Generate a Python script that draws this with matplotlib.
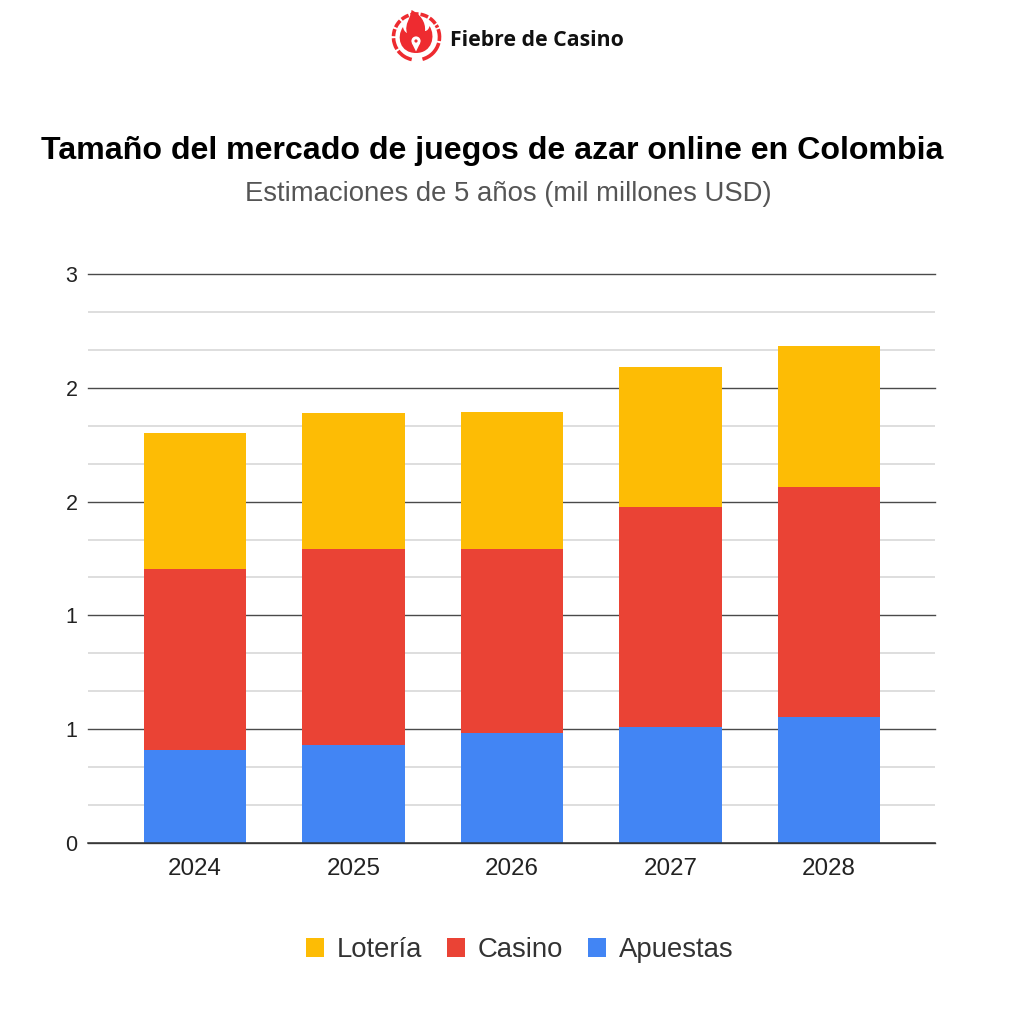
import matplotlib
matplotlib.use("Agg")
import matplotlib.pyplot as plt
from matplotlib.patches import PathPatch, Arc, Circle, Polygon
from matplotlib.path import Path
from matplotlib.ticker import FixedLocator

plt.rcParams['font.family'] = ['Liberation Sans', 'DejaVu Sans']

years = ['2024', '2025', '2026', '2027', '2028']
apuestas = [0.41, 0.43, 0.483, 0.511, 0.554]
casino = [0.795, 0.862, 0.81, 0.967, 1.01]
loteria = [0.598, 0.597, 0.601, 0.612, 0.62]
major_ticks = [0, 0.5, 1, 1.5, 2, 2.5]
major_labels = ['0', '1', '1', '2', '2', '3']
minor_ticks = [0.1667, 0.3333, 0.6667, 0.8333, 1.1667, 1.3333, 1.6667, 1.8333, 2.1667, 2.3333]

W, H = 1018, 1024
fig = plt.figure(figsize=(W / 100, H / 100), dpi=100, facecolor='white')

ax = fig.add_axes([88 / W, 1 - 843 / H, 847 / W, 569 / H])
x = list(range(len(years)))
ax.set_xlim(-0.675, 4.669)
ax.set_ylim(0, 2.5)
bottom2 = [a + c for a, c in zip(apuestas, casino)]
ax.bar(x, apuestas, width=0.645, color='#4285F4', label='Apuestas', zorder=3)
ax.bar(x, casino, width=0.645, bottom=apuestas, color='#EA4335', label='Casino', zorder=3)
ax.bar(x, loteria, width=0.645, bottom=bottom2, color='#FDBC05', label='Lotería', zorder=3)

ax.set_xticks(x, years)
ax.yaxis.set_major_locator(FixedLocator(major_ticks))
ax.set_yticklabels(major_labels)
ax.yaxis.set_minor_locator(FixedLocator(minor_ticks))
ax.grid(True, which='major', axis='y', color='#4a4a4a', lw=1.0, zorder=1, clip_on=False)
ax.grid(True, which='minor', axis='y', color='#d4d4d4', lw=1.1, zorder=1)
ax.grid(False, axis='x')
ax.tick_params(axis='x', which='both', length=0, labelsize=17.4, labelcolor='#222222', pad=11)
ax.tick_params(axis='y', which='both', length=0, labelsize=15.5, labelcolor='#222222', pad=7.5)
for s in ['top', 'left', 'right']:
    ax.spines[s].set_visible(False)
ax.spines['bottom'].set_color('#333333')
ax.spines['bottom'].set_linewidth(1.1)
ax.spines['bottom'].set_zorder(4)

fig.text(492.5 / W, 1 - 151 / H, 'Tamaño del mercado de juegos de azar online en Colombia',
         ha='center', va='center', fontsize=23.17, fontweight='bold', color='#000000')
fig.text(508.5 / W, 1 - 194 / H, 'Estimaciones de 5 años (mil millones USD)',
         ha='center', va='center', fontsize=19.8, color='#555555')

h, l = ax.get_legend_handles_labels()
fig.legend(h[::-1], l[::-1], loc='center', bbox_to_anchor=(519.5 / W, 1 - 950 / H), ncol=3,
           frameon=False, fontsize=19.8, handlelength=0.65, handleheight=0.65,
           handletextpad=0.47, columnspacing=0.9, labelcolor='#333333')

# logo
la = fig.add_axes([385 / W, 1 - 68 / H, 62 / W, 62 / H])
la.set_xlim(385, 447)
la.set_ylim(68, 6)
la.axis('off')
red = '#EE2B30'
cx, cy, r = 416.5, 37, 23
for a0, a1 in [(35, 55), (60, 80), (85, 105), (110, 130), (135, 155), (160, 178),
               (183, 212), (217, 258), (285, 345), (350, 20), (24, 31)]:
    # the y axis runs downward, so angles are mirrored for Arc
    la.add_patch(Arc((cx, cy), 2 * r, 2 * r, theta1=-a1, theta2=-a0, color=red, lw=2.6, capstyle='butt'))
verts = [(411.5, 10),
         (420, 14), (426, 22), (425, 31),
         (427, 31), (429, 29), (429.5, 26),
         (436, 36), (432, 53), (416, 53),
         (400, 53), (396, 37), (403, 27),
         (403.5, 30), (405, 32), (407, 33),
         (404, 24), (411, 18), (411.5, 10)]
codes = [Path.MOVETO] + [Path.CURVE4] * 18
la.add_patch(PathPatch(Path(verts, codes), fc=red, ec='none'))
la.add_patch(Circle((416, 41), 4.6, fc='white', ec='none'))
la.add_patch(Polygon([(411.8, 43), (420.2, 43), (416, 51.5)], fc='white', ec='none'))
la.add_patch(Circle((416, 41), 1.6, fc=red, ec='none'))

fig.text(450 / W, 1 - 41 / H, 'Fiebre de Casino', ha='left', va='center',
         fontsize=15.3, fontweight='bold', color='#111111', family=['Open Sans', 'DejaVu Sans'])

fig.savefig('out.png', dpi=100)
